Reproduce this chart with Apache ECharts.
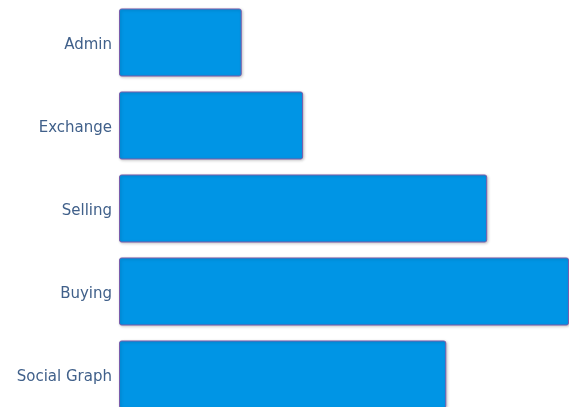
<!DOCTYPE html>
<html>
<head>
<meta charset="utf-8">
<script src="https://cdn.jsdelivr.net/npm/echarts@6/dist/echarts.min.js"></script>
<style>
html,body{margin:0;padding:0;background:#fff;}
#chart{width:569px;height:407px;}
</style>
</head>
<body>
<div id="chart"></div>
<script>
var categories = ["Admin", "Exchange", "Selling", "Buying", "Social Graph"];
var values = [3, 4.5, 9, 11, 8];
var xMax = 11;

var chart = echarts.init(document.getElementById('chart'), null, {renderer: 'canvas'});
chart.setOption({
  animation: false,
  backgroundColor: '#ffffff',
  grid: {left: 119, right: 0, top: 1, height: 415, containLabel: false, outerBoundsMode: 'none'},
  xAxis: {
    type: 'value', min: 0, max: xMax, show: false
  },
  yAxis: {
    type: 'category',
    data: categories,
    inverse: true,
    axisLine: {show: false},
    axisTick: {show: false},
    splitLine: {show: false},
    axisLabel: {
      margin: 7,
      formatter: function (v) { return '{t|' + v + '}'; },
      rich: {
        t: {
          color: '#40608a',
          fontFamily: 'DejaVu Sans',
          fontSize: 15,
          padding: [5, 0, 0, 0]
        }
      }
    }
  },
  series: [{
    type: 'bar',
    data: values,
    barCategoryGap: '18%',
    itemStyle: {
      color: '#0095e5',
      borderColor: '#7a5cab',
      borderWidth: 1,
      borderRadius: 2,
      shadowColor: 'rgba(0,0,0,0.22)',
      shadowBlur: 3,
      shadowOffsetX: 1,
      shadowOffsetY: 1
    }
  }]
});
</script>
</body>
</html>
